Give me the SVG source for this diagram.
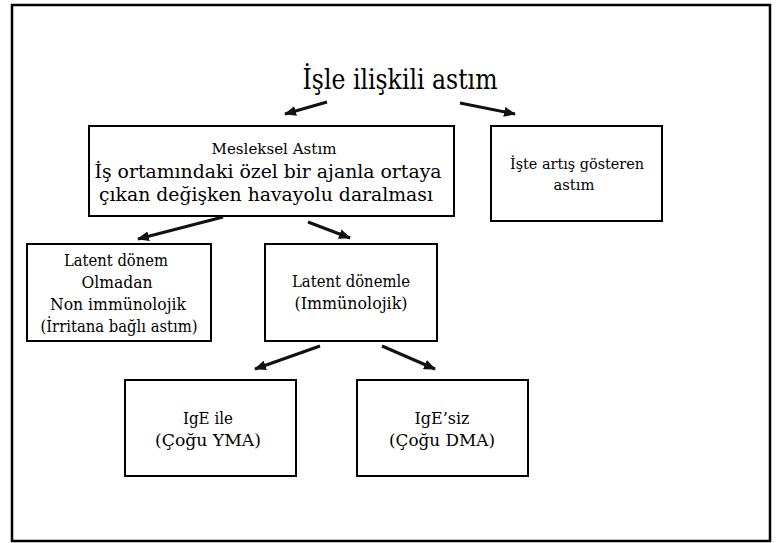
<svg xmlns="http://www.w3.org/2000/svg" width="776" height="543" viewBox="0 0 776 543">
<style>
.box{fill:#fff;stroke:#000;stroke-width:2}
.t{font-family:'DejaVu Serif','Liberation Serif',serif;fill:#000;text-anchor:middle;font-size:17px}
.c{stroke:#111;stroke-width:3;fill:none;marker-end:url(#ah)}
</style>
<defs>
<marker id="ah" markerUnits="userSpaceOnUse" markerWidth="12" markerHeight="10" refX="11" refY="5" orient="auto">
<path d="M0,0 L12,5 L0,10 z" fill="#111"/>
</marker>
</defs>
<rect x="0" y="0" width="776" height="543" fill="#fff"/>
<rect x="12" y="5" width="758" height="536" fill="none" stroke="#000" stroke-width="2.5"/>
<g id="title">
<text class="t" x="400" y="89" style="font-size:28px" textLength="195" lengthAdjust="spacingAndGlyphs">İşle ilişkili astım</text>
</g>
<g id="connectors">
<line class="c" x1="327" y1="102" x2="285" y2="114"/>
<line class="c" x1="460" y1="103" x2="515" y2="114"/>
<line class="c" x1="223" y1="217" x2="138" y2="239"/>
<line class="c" x1="308" y1="222" x2="350" y2="238"/>
<line class="c" x1="320" y1="346" x2="255" y2="369"/>
<line class="c" x1="382" y1="346" x2="435" y2="369"/>
</g>
<g id="mesleksel">
<rect class="box" x="89" y="126" width="365" height="90"/>
<text class="t" x="274" y="154" style="font-size:15px" textLength="125" lengthAdjust="spacingAndGlyphs">Mesleksel Astım</text>
<text class="t" x="268" y="178" style="font-size:19px" textLength="347" lengthAdjust="spacingAndGlyphs">İş ortamındaki özel bir ajanla ortaya</text>
<text class="t" x="266" y="201" style="font-size:19px" textLength="334" lengthAdjust="spacingAndGlyphs">çıkan değişken havayolu daralması</text>
</g>
<g id="iste">
<rect class="box" x="491" y="126" width="171" height="95"/>
<text class="t" x="577" y="169" style="font-size:15px" textLength="134" lengthAdjust="spacingAndGlyphs">İşte artış gösteren</text>
<text class="t" x="574" y="190" style="font-size:15px" textLength="41" lengthAdjust="spacingAndGlyphs">astım</text>
</g>
<g id="latent-donem">
<rect class="box" x="27" y="244" width="184" height="97"/>
<text class="t" x="116" y="266" textLength="104" lengthAdjust="spacingAndGlyphs">Latent dönem</text>
<text class="t" x="117" y="288" textLength="71" lengthAdjust="spacingAndGlyphs">Olmadan</text>
<text class="t" x="118" y="310" textLength="136" lengthAdjust="spacingAndGlyphs">Non immünolojik</text>
<text class="t" x="119" y="332" textLength="157" lengthAdjust="spacingAndGlyphs">(İrritana bağlı astım)</text>
</g>
<g id="latent-donemle">
<rect class="box" x="265" y="244" width="172" height="97"/>
<text class="t" x="351" y="287" textLength="118" lengthAdjust="spacingAndGlyphs">Latent dönemle</text>
<text class="t" x="351" y="309" textLength="113" lengthAdjust="spacingAndGlyphs">(Immünolojik)</text>
</g>
<g id="ige-ile">
<rect class="box" x="125" y="380" width="171" height="96"/>
<text class="t" x="208" y="424" textLength="50" lengthAdjust="spacingAndGlyphs">IgE ile</text>
<text class="t" x="208" y="446" textLength="106" lengthAdjust="spacingAndGlyphs">(Çoğu YMA)</text>
</g>
<g id="ige-siz">
<rect class="box" x="357" y="380" width="171" height="96"/>
<text class="t" x="442" y="424" textLength="55" lengthAdjust="spacingAndGlyphs">IgE’siz</text>
<text class="t" x="442" y="446" textLength="106" lengthAdjust="spacingAndGlyphs">(Çoğu DMA)</text>
</g>
</svg>
